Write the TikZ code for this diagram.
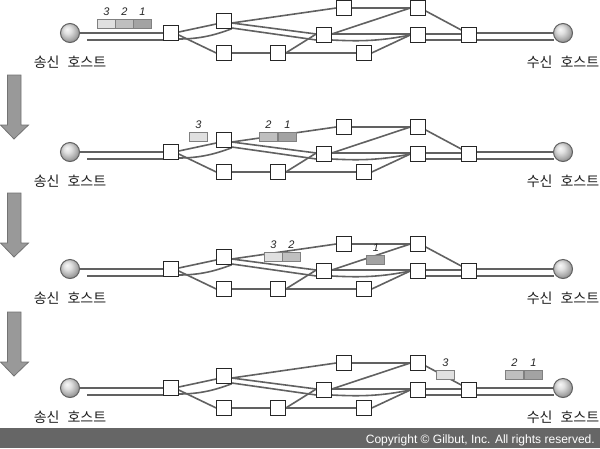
\documentclass[tikz,border=0pt]{standalone}
\usepackage{fontspec}
\setmainfont{Liberation Sans}
\newfontfamily\krfont{Noto Sans CJK KR}
\usetikzlibrary{calc}
\pgfdeclarelayer{wires}
\pgfsetlayers{wires,main}
\pgfdeclareradialshading{hostball}{\pgfpoint{-8bp}{10bp}}{color(0bp)=(black!3); color(10bp)=(black!12); color(22bp)=(black!32); color(34bp)=(black!55); color(50bp)=(black!62)}
\tikzset{
  every picture/.style={x=1pt,y=-1pt},
  sw/.style={draw=black!85,fill=white,line width=1.25pt,minimum size=15.5pt,inner sep=0pt,outer sep=0pt},
  host/.style={circle,draw=black!62,line width=1pt,shading=hostball,minimum size=19pt,inner sep=0pt,outer sep=0pt},
  link/.style={draw=black!62,line width=1.6pt},
  pktcell/.style={draw=black!50,line width=1pt,minimum width=18pt,minimum height=9.5pt,inner sep=0pt,outer sep=0pt},
  plight/.style={pktcell,fill=black!12},
  pmid/.style={pktcell,fill=black!25},
  pdark/.style={pktcell,fill=black!36},
  num/.style={font=\fontsize{11}{11}\selectfont\itshape,text=black!85,inner sep=0pt},
  hostlabel/.style={font=\krfont\fontsize{14}{14}\selectfont,text=black!88,inner sep=0pt},
  downarrow/.style={draw=black!55,fill=black!40,line width=0.8pt},
}
\newcommand{\netrow}[2]{% #1 = row id, #2 = vertical offset
  \coordinate (t#1) at (87,40+#2);
  \node[host] (hs#1) at (70,33+#2) {};
  \node[host] (hr#1) at (563,33+#2) {};
  \node[hostlabel] (ls#1) at (70,62.5+#2) {송신\hspace{8pt}호스트};
  \node[hostlabel] (lr#1) at (563,62.5+#2) {수신\hspace{8pt}호스트};
  \node[sw] (a#1) at (171,33+#2) {};
  \node[sw] (b#1) at (224,21+#2) {};
  \node[sw] (c#1) at (224,53+#2) {};
  \node[sw] (d#1) at (278,53+#2) {};
  \node[sw] (e#1) at (324,35+#2) {};
  \node[sw] (f#1) at (364,53+#2) {};
  \node[sw] (g#1) at (344,8+#2) {};
  \node[sw] (h#1) at (418,8+#2) {};
  \node[sw] (i#1) at (418,35+#2) {};
  \node[sw] (j#1) at (469,35+#2) {};
  \begin{pgfonlayer}{wires}
  \draw[link] (hs#1.east) -- (a#1.west);
  \draw[link] (t#1) -- ($(a#1.west)+(0,7)$);
  \draw[link] ($(a#1.east)+(0,6)$) .. controls ($(a#1.east)+(22,6)$) and ($(b#1.south east)+(-16,6)$) .. (b#1.south east);
  \draw[link] ($(a#1.east)+(0,-1)$) -- ($(b#1.west)+(0,3)$);
  \draw[link] ($(a#1.east)+(0,2)$) -- (c#1.west);
  \draw[link] ($(b#1.east)+(0,2)$) -- (g#1.west);
  \draw[link] ($(b#1.east)+(0,2)$) -- ($(e#1.west)+(0,-1)$);
  \draw[link] ($(b#1.east)+(0,7)$) -- ($(e#1.west)+(0,5)$);
  \draw[link] (c#1.east) -- (d#1.west);
  \draw[link] (d#1.east) -- (f#1.west);
  \draw[link] (d#1.east) -- ($(e#1.west)+(0,-1)$);
  \draw[link] ($(e#1.east)+(0,-1)$) -- (h#1.west);
  \draw[link] ($(e#1.east)+(0,-1)$) -- ($(i#1.west)+(0,-1)$);
  \draw[link] ($(e#1.east)+(0,5)$) .. controls ($(e#1.east)+(30,6.5)$) and ($(i#1.west)+(-30,6)$) .. (i#1.west);
  \draw[link] (f#1.east) -- (i#1.west);
  \draw[link] (g#1.east) -- (h#1.west);
  \draw[link] ($(h#1.east)+(0,3)$) -- ($(j#1.west)+(0,-5)$);
  \draw[link] ($(i#1.east)+(0,-1)$) -- ($(j#1.west)+(0,-1)$);
  \draw[link] ($(i#1.east)+(0,5)$) -- ($(j#1.west)+(0,5)$);
  \draw[link] ($(j#1.east)+(0,-2)$) -- (hr#1.west);
  \draw[link] ($(j#1.east)+(0,5)$) -- ($(hr#1.west)+(0,7)$);
  \end{pgfonlayer}
}
\newcommand{\bigdown}[1]{%
  \draw[downarrow] (7.5,#1) -- (21,#1) -- (21,#1+50) -- (28.5,#1+50) -- (14,#1+64) -- (0.5,#1+50) -- (7.5,#1+50) -- cycle;
}
\newcommand{\pkt}[5]{% name, style, centre x, centre y, number
  \node[#2] (p#1) at (#3,#4) {};
  \node[num] (n#1) at (#3+0.5,#4-12.5) {#5};
}
\begin{document}
\begin{tikzpicture}
\useasboundingbox (0,0) rectangle (600,448);
\begin{pgfonlayer}{wires}
\fill[white] (0,0) rectangle (600,448);
\end{pgfonlayer}
\netrow{1}{0}
\netrow{2}{119}
\netrow{3}{236}
\netrow{4}{355}
\bigdown{75}
\bigdown{193}
\bigdown{312}
% packets
\pkt{a}{plight}{106}{24}{3}
\pkt{b}{pmid}{124}{24}{2}
\pkt{c}{pdark}{142}{24}{1}
\pkt{d}{plight}{198}{137}{3}
\pkt{e}{pmid}{268}{137}{2}
\pkt{f}{pdark}{287}{137}{1}
\pkt{g}{plight}{273}{257}{3}
\pkt{h}{pmid}{291}{257}{2}
\pkt{i}{pdark}{375.5}{260}{1}
\pkt{j}{plight}{445}{375}{3}
\pkt{k}{pmid}{514}{375}{2}
\pkt{l}{pdark}{533}{375}{1}
% footer
\fill[black!60] (0,428) rectangle (600,448);
\node[anchor=east,text=white,font=\fontsize{12.05}{12}\selectfont,inner sep=0pt] (copy) at (595,440) {Copyright © Gilbut, Inc. All rights reserved.};
\end{tikzpicture}
\end{document}
